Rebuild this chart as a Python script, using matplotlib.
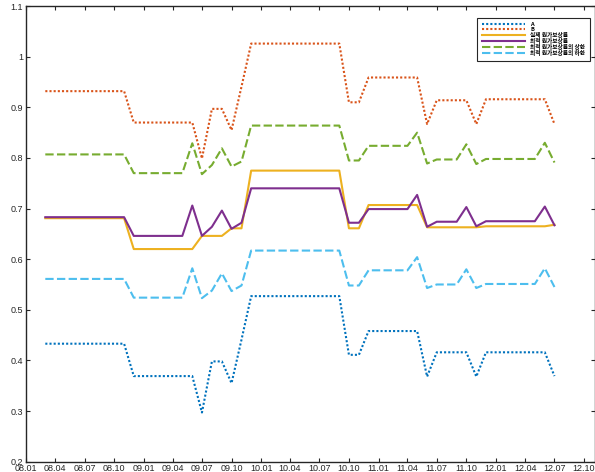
import numpy as np
import pandas as pd
import matplotlib as mpl
mpl.use("Agg")
import matplotlib.pyplot as plt
import matplotlib.dates as mdates

mpl.rcParams.update({
    "font.family": ["Liberation Sans", "DejaVu Sans"],
    "font.size": 6.5,
    "axes.linewidth": 1.0,
    "axes.edgecolor": "#262626",
    "xtick.color": "#262626",
    "ytick.color": "#262626",
    "xtick.direction": "in",
    "ytick.direction": "in",
    "xtick.top": True,
    "ytick.right": True,
    "xtick.major.size": 3.0,
    "ytick.major.size": 3.0,
    "xtick.major.width": 0.8,
    "ytick.major.width": 0.8,
})

# monthly observations, 2008.03 .. 2012.07
months = pd.date_range("2008-03-01", "2012-07-01", freq="MS")

series_a = [
    0.433, 0.433, 0.433, 0.433, 0.433, 0.433, 0.433, 0.433, 0.433,
    0.369, 0.369, 0.369, 0.369, 0.369, 0.369, 0.369,
    0.297, 0.398, 0.398, 0.355, 0.441,
    0.527, 0.527, 0.527, 0.527, 0.527, 0.527, 0.527, 0.527, 0.527, 0.527,
    0.411, 0.411,
    0.458, 0.458, 0.458, 0.458, 0.458, 0.458,
    0.368, 0.416, 0.416, 0.416, 0.416, 0.368,
    0.416, 0.416, 0.416, 0.416, 0.416, 0.416, 0.416, 0.369,
]
series_b = [
    0.932, 0.932, 0.932, 0.932, 0.932, 0.932, 0.932, 0.932, 0.932,
    0.870, 0.870, 0.870, 0.870, 0.870, 0.870, 0.870,
    0.799, 0.897, 0.897, 0.855, 0.941,
    1.026, 1.026, 1.026, 1.026, 1.026, 1.026, 1.026, 1.026, 1.026, 1.026,
    0.910, 0.910,
    0.959, 0.959, 0.959, 0.959, 0.959, 0.959,
    0.867, 0.914, 0.914, 0.914, 0.914, 0.867,
    0.916, 0.916, 0.916, 0.916, 0.916, 0.916, 0.916, 0.867,
]
actual = [
    0.681, 0.681, 0.681, 0.681, 0.681, 0.681, 0.681, 0.681, 0.681,
    0.620, 0.620, 0.620, 0.620, 0.620, 0.620, 0.620,
    0.646, 0.646, 0.646, 0.661, 0.661,
    0.775, 0.775, 0.775, 0.775, 0.775, 0.775, 0.775, 0.775, 0.775, 0.775,
    0.661, 0.661,
    0.707, 0.707, 0.707, 0.707, 0.707, 0.707,
    0.663, 0.663, 0.663, 0.663, 0.663, 0.663,
    0.665, 0.665, 0.665, 0.665, 0.665, 0.665, 0.665, 0.668,
]
optimal = [
    0.683, 0.683, 0.683, 0.683, 0.683, 0.683, 0.683, 0.683, 0.683,
    0.646, 0.646, 0.646, 0.646, 0.646, 0.646,
    0.706, 0.646, 0.664, 0.696, 0.660, 0.672,
    0.740, 0.740, 0.740, 0.740, 0.740, 0.740, 0.740, 0.740, 0.740, 0.740,
    0.672, 0.672,
    0.699, 0.699, 0.699, 0.699, 0.699, 0.727,
    0.664, 0.674, 0.674, 0.674, 0.703, 0.665,
    0.675, 0.675, 0.675, 0.675, 0.675, 0.675, 0.704, 0.667,
]
upper = [
    0.807, 0.807, 0.807, 0.807, 0.807, 0.807, 0.807, 0.807, 0.807,
    0.770, 0.770, 0.770, 0.770, 0.770, 0.770,
    0.829, 0.768, 0.786, 0.819, 0.783, 0.793,
    0.864, 0.864, 0.864, 0.864, 0.864, 0.864, 0.864, 0.864, 0.864, 0.864,
    0.795, 0.795,
    0.824, 0.824, 0.824, 0.824, 0.824, 0.850,
    0.789, 0.797, 0.797, 0.797, 0.827, 0.788,
    0.798, 0.798, 0.798, 0.798, 0.798, 0.798, 0.830, 0.791,
]
lower = [
    0.561, 0.561, 0.561, 0.561, 0.561, 0.561, 0.561, 0.561, 0.561,
    0.524, 0.524, 0.524, 0.524, 0.524, 0.524,
    0.582, 0.523, 0.538, 0.572, 0.537, 0.548,
    0.617, 0.617, 0.617, 0.617, 0.617, 0.617, 0.617, 0.617, 0.617, 0.617,
    0.548, 0.548,
    0.578, 0.578, 0.578, 0.578, 0.578, 0.604,
    0.543, 0.550, 0.550, 0.550, 0.580, 0.543,
    0.551, 0.551, 0.551, 0.551, 0.551, 0.551, 0.582, 0.545,
]

labels = ["A", "B", "실제 원가보상률", "최적 원가보상률",
          "최적 원가보상률의 상한", "최적 원가보상률의 하한"]

fig = plt.figure(figsize=(5.95, 4.72), dpi=100)
ax = fig.add_axes([0.0437, 0.022, 0.9563, 0.965])

dot = (0, (1, 1))
dash = (0, (4, 1.6))
ax.plot(months, series_a, color="#0072BD", lw=1.5, ls=dot, label=labels[0])
ax.plot(months, series_b, color="#D95319", lw=1.5, ls=dot, label=labels[1])
ax.plot(months, actual, color="#EDB120", lw=1.5, label=labels[2])
ax.plot(months, optimal, color="#7E2F8E", lw=1.5, label=labels[3])
ax.plot(months, upper, color="#77AC30", lw=1.5, ls=dash, label=labels[4])
ax.plot(months, lower, color="#4DBEEE", lw=1.5, ls=dash, label=labels[5])

ax.set_xlim(pd.Timestamp("2008-01-01"), pd.Timestamp("2012-11-04"))
ax.set_ylim(0.2, 1.1)
ax.set_yticks(np.arange(0.2, 1.11, 0.1))
ax.yaxis.set_major_formatter(mpl.ticker.FormatStrFormatter("%g"))
ax.xaxis.set_major_locator(mdates.MonthLocator(bymonth=[1, 4, 7, 10]))
ax.xaxis.set_major_formatter(mdates.DateFormatter("%y.%m"))
ax.tick_params(axis="x", pad=2)
ax.tick_params(axis="y", pad=2)

# compact legend box in the upper-right corner
leg = ax.legend(loc="upper right", bbox_to_anchor=(0.991, 0.975),
                borderaxespad=0, handlelength=7.6,
                labelspacing=0.0, handletextpad=0.9, borderpad=0.8,
                fancybox=False, framealpha=1,
                prop={"family": ["Noto Sans CJK KR", "DejaVu Sans"],
                      "size": 4.1, "weight": "bold"})
leg.get_frame().set_edgecolor("#262626")
leg.get_frame().set_linewidth(0.8)

fig.savefig("out.png", dpi=100)
